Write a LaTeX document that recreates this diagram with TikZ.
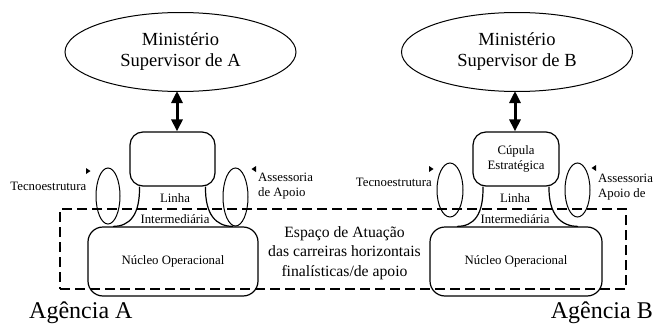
\documentclass[tikz,border=0pt]{standalone}
\usepackage{fontspec}
\setmainfont{Liberation Serif}
\usetikzlibrary{shapes.geometric,arrows.meta,calc}
\newcommand\smf{\fontsize{12.8}{15}\selectfont}
\begin{document}
\begin{tikzpicture}[x=1pt,y=-1pt,
  minist/.style={draw,ellipse,line width=1pt,minimum width=231pt,minimum height=79pt,inner sep=0pt,align=center,font=\fontsize{18.5}{21}\selectfont},
  topbox/.style={draw,rounded corners=13pt,line width=1.2pt,minimum width=85pt,minimum height=54pt,inner sep=0pt,align=center,font=\smf},
  botbox/.style={draw,rounded corners=15pt,line width=1.2pt,minimum width=170pt,minimum height=69pt,inner sep=0pt,align=center,font=\smf},
  sideell/.style={draw,ellipse,line width=1pt,minimum width=25pt,minimum height=57pt,inner sep=0pt},
  neck/.style={line width=1.2pt},
  lbl/.style={font=\smf,inner sep=0pt,align=center},
  dbl/.style={line width=3pt,{Triangle[width=11pt,length=12pt]}-{Triangle[width=11pt,length=12pt]}},
  espaco/.style={draw,dash pattern=on 10pt off 5pt,line width=1.8pt,minimum width=566pt,minimum height=80pt,inner sep=0pt},
  agencia/.style={font=\fontsize{24}{28}\selectfont,inner sep=0pt},
  tip/.style={fill=black}
]
\useasboundingbox (0,0) rectangle (659,324);

% Ministries
\node[minist] (minA) at (180.5,52) {Ministério\\Supervisor de A};
\node[minist] (minB) at (517,52) {Ministério\\Supervisor de B};

% Top boxes
\node[topbox] (topA) at (172.5,159) {};
\node[topbox,minimum width=86pt] (topB) at (516,159) {Cúpula\\Estratégica};

% Bottom boxes
\node[botbox] (botA) at (173,261.5) {Núcleo Operacional};
\node[botbox,minimum width=172pt] (botB) at (516,261.5) {Núcleo Operacional};

% double arrows
\coordinate (axA) at (177,0);
\coordinate (axB) at (515,0);
\draw[dbl] ([yshift=1pt]minA.south -| axA) -- (topA.north -| axA);
\draw[dbl] ([yshift=1pt]minB.south -| axB) -- (topB.north -| axB);

% necks
\draw[neck] ($(topA.south)+(-33,0)$) .. controls +(0.5,28) and +(17,0) .. ($(botA.north)+(-60,0)$);
\draw[neck] ($(topA.south)+(33,0)$) .. controls +(-0.5,28) and +(-17,0) .. ($(botA.north)+(60,0)$);
\draw[neck] ($(topB.south)+(-33,0)$) .. controls +(0.5,28) and +(17,0) .. ($(botB.north)+(-59,0)$);
\draw[neck] ($(topB.south)+(33,0)$) .. controls +(-0.5,28) and +(-17,0) .. ($(botB.north)+(62,0)$);

% Linha / Intermediaria
\node[lbl] (linA) at (175,198) {Linha};
\node[lbl] (intA) at (175,219) {Intermediária};
\node[lbl] (linB) at (515,198) {Linha};
\node[lbl] (intB) at (515,219) {Intermediária};

% side ellipses
\node[sideell,minimum width=24pt,minimum height=56pt] (tecA) at (108,196) {};
\node[sideell,minimum height=58pt] (assA) at (235.5,197) {};
\node[sideell,minimum width=26pt,minimum height=54pt] (tecB) at (450,190) {};
\node[sideell,minimum height=54pt] (assB) at (577.5,190) {};

% side labels
\node[lbl,anchor=east] (ttA) at (86.5,186) {Tecnoestrutura};
\node[lbl,anchor=west,align=left] (asA) at (258,186.5) {Assessoria\\de Apoio};
\node[lbl,anchor=east] (ttB) at (432,182) {Tecnoestrutura};
\node[lbl,anchor=west,align=left] (asB) at (598,187) {Assessoria\\Apoio de};

% tiny arrow tips
\fill[tip] (86,168) -- (90.5,171) -- (86,174) -- cycle;
\fill[tip] (256,166) -- (251.5,169) -- (256,172) -- cycle;
\fill[tip] (429,166) -- (433.5,169) -- (429,172) -- cycle;
\fill[tip] (596,165) -- (591.5,168) -- (596,171) -- cycle;

% dashed area
\node[espaco] (esp) at (343,249) {};
\node[font=\fontsize{15.7}{19.3}\selectfont,align=center,inner sep=0pt] (espT) at (344.5,253) {Espaço de Atuação\\das carreiras horizontais\\finalísticas/de apoio};

% agency labels
\node[agencia,anchor=base west] (agA) at (29,318) {Agência A};
\node[agencia,anchor=base east] (agB) at (653,318) {Agência B};
\end{tikzpicture}
\end{document}
